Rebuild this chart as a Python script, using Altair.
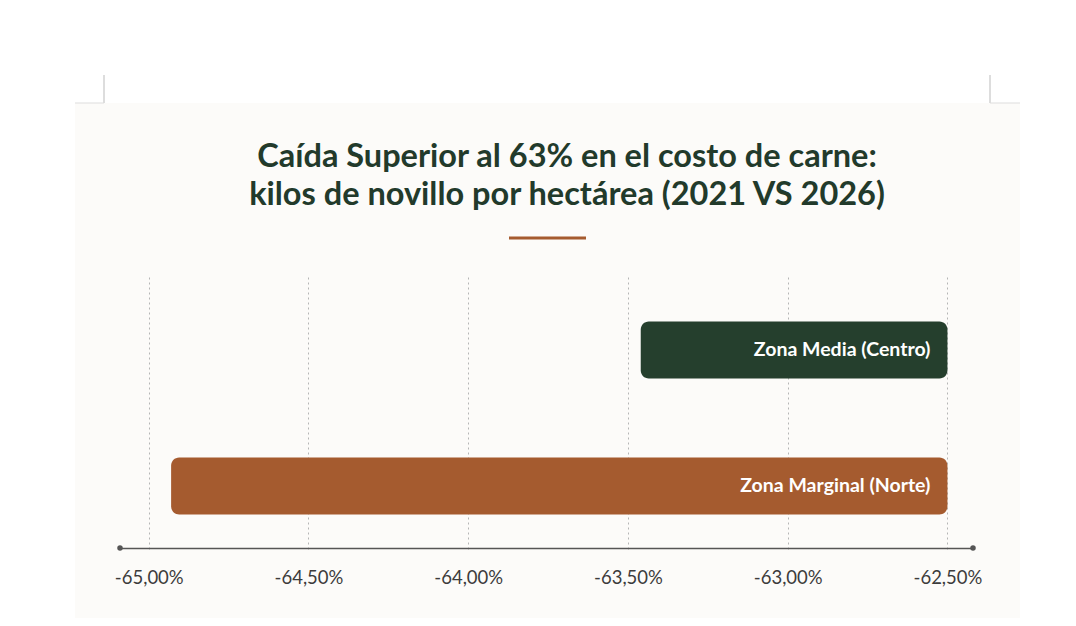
import altair as alt
import pandas as pd

zones = ["Zona Media (Centro)", "Zona Marginal (Norte)"]
changes = [-63.46, -64.93]
bar_end = [-62.5, -62.5]
colors = ["#253f2d", "#a55b2f"]
tick_values = [-65.0, -64.5, -64.0, -63.5, -63.0, -62.5]
domain = [-65.09, -62.42]
title_lines = ["Caída Superior al 63% en el costo de carne:",
               "kilos de novillo por hectárea (2021 VS 2026)"]

df = pd.DataFrame({"zona": zones, "cambio": changes, "fin": bar_end, "color": colors})

W, H = 853, 265
FONT = "Lato"
PANEL = "#fcfbf9"

x_scale = alt.Scale(domain=domain, nice=False, zero=False)
y_enc = alt.Y("zona:N", sort=zones, axis=None,
              scale=alt.Scale(paddingInner=0, paddingOuter=0, range=[-1, 271]))

label_expr = "(datum.value < 0 ? '-' : '') + replace(format(abs(datum.value), '.2f'), '.', ',') + '%'"

x_axis = alt.Axis(values=tick_values, labelExpr=label_expr, title=None,
                  grid=True, gridDash=[2, 3], gridColor="#b5b5b5", gridWidth=1,
                  domain=True, domainColor="#555555", domainWidth=1.5,
                  ticks=False, labelPadding=20, labelFontSize=18.5,
                  labelColor="#3c3c3c", labelFont=FONT)

bars = alt.Chart(df).mark_bar(cornerRadius=8, size=57).encode(
    x=alt.X("cambio:Q", scale=x_scale, axis=x_axis),
    x2="fin:Q",
    y=y_enc,
    color=alt.Color("color:N", scale=None),
)

labels = alt.Chart(df).mark_text(align="right", baseline="middle", dx=-17,
                                 font=FONT, fontSize=19.5, fontWeight="bold",
                                 color="#ffffff").encode(
    x=alt.X("fin:Q", scale=x_scale),
    y=y_enc,
    text="zona:N",
)

dummy = pd.DataFrame({"k": [0]})

# white surroundings outside the light panel
white_top = alt.Chart(dummy).mark_rect(color="#ffffff").encode(
    x=alt.value(-120), x2=alt.value(960), y=alt.value(-280), y2=alt.value(-180))
white_left = alt.Chart(dummy).mark_rect(color="#ffffff").encode(
    x=alt.value(-120), x2=alt.value(-45), y=alt.value(-280), y2=alt.value(360))
white_right = alt.Chart(dummy).mark_rect(color="#ffffff").encode(
    x=alt.value(900), x2=alt.value(960), y=alt.value(-280), y2=alt.value(360))

crop_color = "#bbbbbb"
crop1 = alt.Chart(dummy).mark_rule(color=crop_color, strokeWidth=1).encode(
    x=alt.value(-16), y=alt.value(-208), y2=alt.value(-180))
crop2 = alt.Chart(dummy).mark_rule(color="#dddddd", strokeWidth=1).encode(
    x=alt.value(-45), x2=alt.value(-16), y=alt.value(-180))
crop3 = alt.Chart(dummy).mark_rule(color=crop_color, strokeWidth=1).encode(
    x=alt.value(870), y=alt.value(-208), y2=alt.value(-180))
crop4 = alt.Chart(dummy).mark_rule(color="#dddddd", strokeWidth=1).encode(
    x=alt.value(870), x2=alt.value(900), y=alt.value(-180))

underline = alt.Chart(dummy).mark_rule(color="#a55b2f", strokeWidth=3).encode(
    x=alt.value(389), x2=alt.value(466), y=alt.value(-45))

title_df = pd.DataFrame({"line": title_lines, "ty": [-116, -78]})
title_text = alt.Chart(title_df).mark_text(
    align="center", baseline="alphabetic", font=FONT, fontSize=32.5,
    fontWeight="bold", color="#223a2b").encode(
    x=alt.value(447), y=alt.Y("ty:Q", scale=None), text="line:N")

end_dots = alt.Chart(pd.DataFrame({"px": domain})).mark_circle(
    color="#555555", size=30, opacity=1).encode(
    x=alt.X("px:Q", scale=x_scale), y=alt.value(H))

chart = alt.layer(white_top, white_left, white_right, crop1, crop2, crop3, crop4,
                  underline, title_text, bars, labels, end_dots).properties(
    width=W, height=H,
    autosize=alt.AutoSizeParams(type="none"),
    padding={"left": 112, "top": 275, "right": 90, "bottom": 70},
    background=PANEL,
).configure_view(stroke=None)

chart.save("out.html", embed_options={"renderer": "svg", "actions": False})
